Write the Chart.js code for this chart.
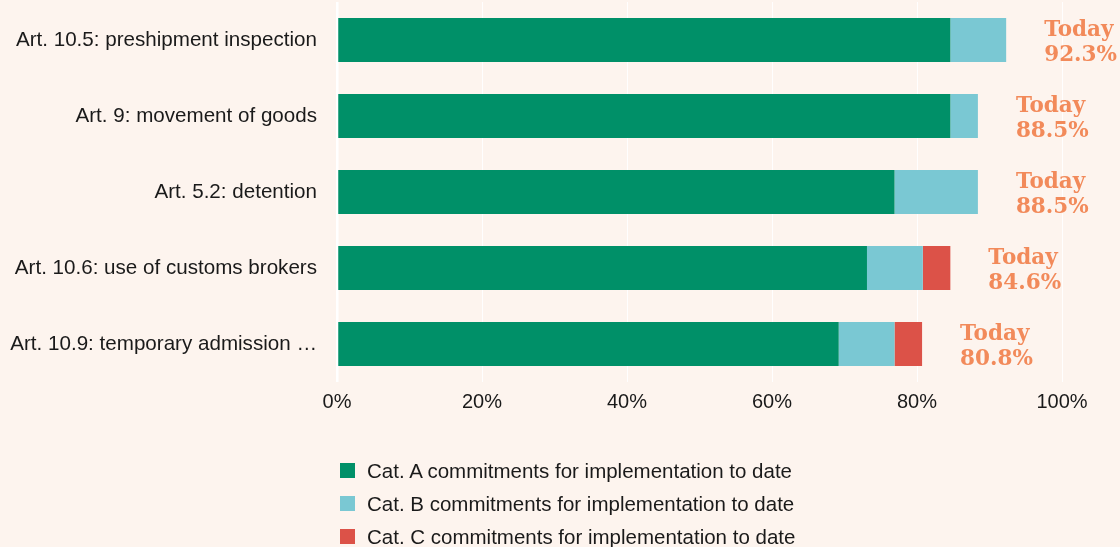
<!DOCTYPE html>
<html>
<head>
<meta charset="utf-8">
<script src="https://cdn.jsdelivr.net/npm/chart.js@4/dist/chart.umd.min.js"></script>
<style>
  body { margin: 0; background: #fdf4ee; }
  #wrap { position: relative; width: 1120px; height: 547px; }
  #legend { position: absolute; left: 340px; top: 464px; font-family: "Liberation Sans", Arial, sans-serif; font-size: 20.5px; color: #1a1a1a; }
  #legend div { height: 33px; display: flex; align-items: center; margin-top: -10px; margin-bottom: 10px; }
  #legend span.box { display: inline-block; width: 15px; height: 15px; margin-right: 12px; }
</style>
</head>
<body>
<div id="wrap">
  <canvas id="chart" width="1120" height="547"></canvas>
  <div id="legend"></div>
</div>
<script>
const categories = [
  "Art. 10.5: preshipment inspection",
  "Art. 9: movement of goods",
  "Art. 5.2: detention",
  "Art. 10.6: use of customs brokers",
  "Art. 10.9: temporary admission …"
];
const catA = [84.6, 84.6, 76.9, 73.1, 69.2];
const catB = [7.7, 3.8, 11.5, 7.7, 7.7];
const catC = [0, 0, 0, 3.8, 3.8];
const today = ["92.3%", "88.5%", "88.5%", "84.6%", "80.8%"];
const xTicks = [0, 20, 40, 60, 80, 100];

const seriesNames = [
  "Cat. A commitments for implementation to date",
  "Cat. B commitments for implementation to date",
  "Cat. C commitments for implementation to date"
];
const colors = ["#009068", "#7ac8d3", "#dc5248"];

// "Today xx%" labels to the right of each bar
const todayLabels = {
  id: "todayLabels",
  afterDatasetsDraw(chart) {
    const ctx = chart.ctx;
    const x = chart.scales.x, y = chart.scales.y;
    ctx.save();
    ctx.fillStyle = "#f28a5a";
    ctx.font = "bold 21.5px 'DejaVu Serif', serif";
    ctx.textAlign = "left";
    ctx.textBaseline = "middle";
    categories.forEach((c, i) => {
      const total = catA[i] + catB[i] + catC[i];
      const px = x.getPixelForValue(total) + 38;
      const py = y.getPixelForValue(i);
      ctx.fillText("Today", px, py - 10);
      ctx.fillText(today[i], px, py + 15);
    });
    ctx.restore();
  }
};

const bg = {
  id: "bg",
  beforeDraw(chart) {
    const ctx = chart.ctx;
    ctx.save();
    ctx.fillStyle = "#fdf4ee";
    ctx.fillRect(0, 0, chart.width, chart.height);
    ctx.restore();
  }
};

const chart = new Chart(document.getElementById("chart"), {
  type: "bar",
  data: {
    labels: categories,
    datasets: [catA, catB, catC].map((d, i) => ({
      label: seriesNames[i],
      data: d,
      backgroundColor: colors[i],
      borderWidth: 0,
      categoryPercentage: 1,
      barPercentage: 0.58
    }))
  },
  options: {
    indexAxis: "y",
    responsive: false,
    animation: false,
    layout: { padding: { top: 2, right: 58 } },
    plugins: { legend: { display: false }, tooltip: { enabled: false } },
    scales: {
      x: {
        stacked: true,
        min: 0,
        max: 100,
        afterBuildTicks(s) { s.ticks = xTicks.map(v => ({ value: v })); },
        afterFit(s) { s.height = 165; s.paddingLeft = 0; s.paddingRight = 0; },
        border: { display: false },
        grid: {
          drawTicks: false,
          color: c => c.tick && c.tick.value === 0 ? "#ffffff" : "rgba(255,255,255,0.9)",
          lineWidth: c => c.tick && c.tick.value === 0 ? 2.5 : 1
        },
        ticks: {
          padding: 8,
          color: "#1a1a1a",
          font: { family: "'Liberation Sans', Arial, sans-serif", size: 20 },
          callback: v => v + "%"
        }
      },
      y: {
        stacked: true,
        afterFit(s) { s.width = 337; s.paddingTop = 0; s.paddingBottom = 0; },
        border: { display: false },
        grid: { display: false },
        ticks: {
          padding: 12,
          color: "#1a1a1a",
          font: { family: "'Liberation Sans', Arial, sans-serif", size: 20.6 }
        }
      }
    }
  },
  plugins: [bg, todayLabels]
});

// legend built from the datasets
const legend = document.getElementById("legend");
chart.data.datasets.forEach(ds => {
  const row = document.createElement("div");
  row.innerHTML = `<span class="box" style="background:${ds.backgroundColor}"></span>${ds.label}`;
  legend.appendChild(row);
});
</script>
</body>
</html>
